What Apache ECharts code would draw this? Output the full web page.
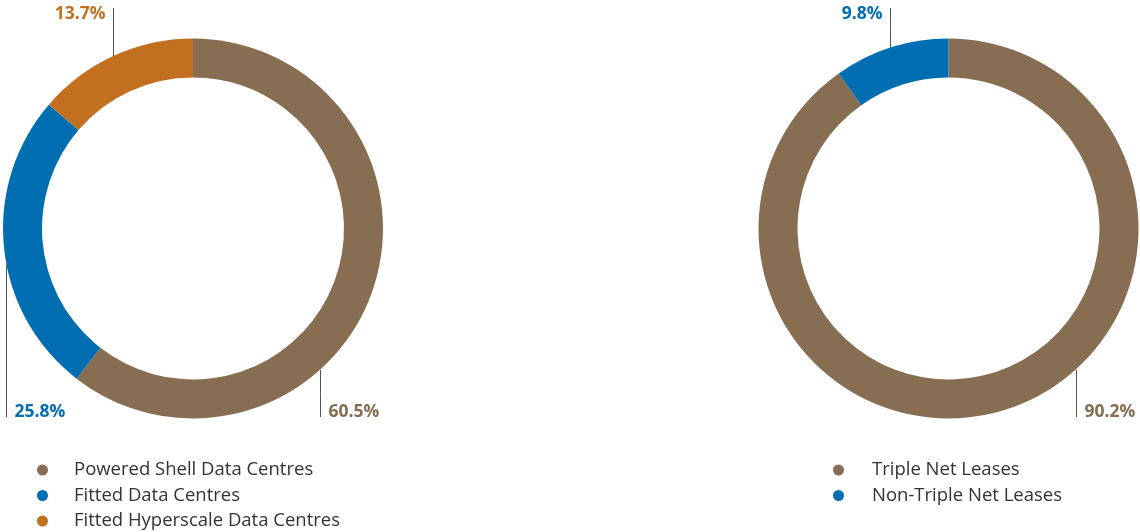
<!DOCTYPE html>
<html lang="en">
<head>
<meta charset="UTF-8" />
<title>Portfolio mix</title>
<script src="https://cdn.jsdelivr.net/npm/echarts@6/dist/echarts.min.js"></script>
<style>
  html, body { margin: 0; padding: 0; background: #ffffff; }
  #chart { width: 1140px; height: 532px; }
</style>
</head>
<body>
<div id="chart"></div>
<script type="text/javascript">
// data
var typeNames = ['Powered Shell Data Centres', 'Fitted Data Centres', 'Fitted Hyperscale Data Centres'];
var typeShare = [60.5, 25.8, 13.7];
var leaseNames = ['Triple Net Leases', 'Non-Triple Net Leases'];
var leaseShare = [90.2, 9.8];

var colors = ['#876d52', '#006eb1', '#c2701f'];

// geometry of the two rings
var CY = 228.5, R_OUT = 190, R_IN = 151;
var leftCX = 193, rightCX = 948.5;
// where each leader line leaves the ring (degrees clockwise from 12 o'clock)
var leftLeader = [138, 259, 335];
var rightLeader = [138, 342];

function makeData(names, vals) {
    return names.map(function (n, i) {
        return {
            name: n,
            value: vals[i],
            itemStyle: { color: colors[i] },
            label: { color: colors[i] }
        };
    });
}

function leaderLayout(cx, angles) {
    return function (p) {
        var a = angles[p.dataIndex] * Math.PI / 180;
        var ax = cx + R_OUT * Math.sin(a);
        var ay = CY - R_OUT * Math.cos(a);
        var x = Math.round(ax) + 0.5;
        if (ay < CY) {
            return {
                x: x - 8, y: 5, align: 'right', verticalAlign: 'top',
                labelLinePoints: [[x, ay], [x, (ay + 8) / 2], [x, 8]]
            };
        }
        return {
            x: x + 8, y: 421, align: 'left', verticalAlign: 'bottom',
            labelLinePoints: [[x, ay], [x, (ay + 417) / 2], [x, 417]]
        };
    };
}

function ring(name, cx, names, vals, angles) {
    return {
        name: name,
        type: 'pie',
        center: [cx, CY],
        radius: [R_IN, R_OUT],
        startAngle: 90,
        clockwise: true,
        silent: true,
        avoidLabelOverlap: false,
        label: {
            show: true,
            position: 'outside',
            formatter: '{c}%',
            fontFamily: 'Open Sans',
            fontSize: 17.5,
            fontWeight: 'bold'
        },
        labelLine: { show: true, lineStyle: { color: '#555', width: 1 } },
        labelLayout: leaderLayout(cx, angles),
        data: makeData(names, vals)
    };
}

function legendText(gap) {
    return { fontFamily: 'Open Sans', fontSize: 18.5, color: '#333', lineHeight: 20, padding: [0, 0, 0, gap] };
}

var chart = echarts.init(document.getElementById('chart'));
chart.setOption({
    animation: false,
    backgroundColor: '#ffffff',
    legend: [
        {
            data: typeNames, orient: 'vertical', left: 37, top: 460, padding: 0,
            icon: 'circle', itemWidth: 11, itemHeight: 11, itemGap: 5.5,
            selectedMode: false, textStyle: legendText(21)
        },
        {
            data: leaseNames, orient: 'vertical', left: 833, top: 460, padding: 0,
            icon: 'circle', itemWidth: 11, itemHeight: 11, itemGap: 5.5,
            selectedMode: false, textStyle: legendText(23)
        }
    ],
    series: [
        ring('type', leftCX, typeNames, typeShare, leftLeader),
        ring('lease', rightCX, leaseNames, leaseShare, rightLeader)
    ]
});
</script>
</body>
</html>
